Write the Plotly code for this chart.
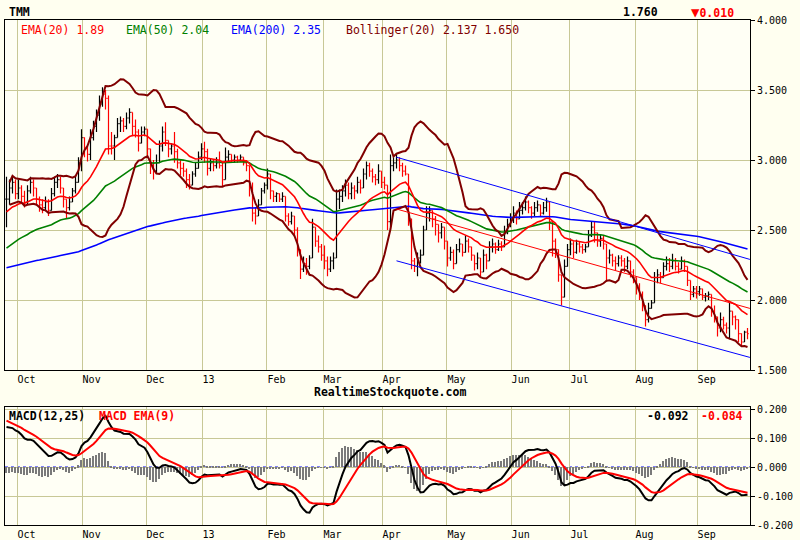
import numpy as np
import pandas as pd
import plotly.graph_objects as go

# month labels and where each month starts on the bar axis
month_labels = ["Oct", "Nov", "Dec", "13", "Feb", "Mar", "Apr", "May", "Jun", "Jul", "Aug", "Sep"]
month_start = [3.5, 25.2, 46.5, 65.2, 86.8, 105.5, 125.2, 146.8, 168.2, 187.8, 209.5, 230.2]

# daily bars, late Sep 2012 .. late Sep 2013
close = [
    2.72, 2.80, 2.84, 2.76, 2.80, 2.74, 2.70, 2.78, 2.84, 2.80,
    2.72, 2.68, 2.66, 2.70, 2.64, 2.76, 2.84, 2.86, 2.80, 2.72,
    2.66, 2.70, 2.78, 2.84, 2.98, 3.16, 3.08, 3.04, 3.16, 3.24,
    3.32, 3.40, 3.47, 3.44, 3.10, 3.10, 3.16, 3.26, 3.28, 3.24,
    3.30, 3.34, 3.24, 3.20, 3.12, 3.20, 3.22, 3.08, 2.96, 2.92,
    2.98, 3.10, 3.20, 3.14, 3.08, 3.10, 3.06, 2.98, 2.94, 2.92,
    2.86, 2.82, 2.90, 2.94, 3.02, 3.08, 3.06, 2.94, 2.98, 2.96,
    2.98, 2.96, 2.86, 3.02, 3.04, 3.00, 3.02, 3.00, 3.02, 2.98,
    2.96, 2.80, 2.62, 2.60, 2.68, 2.78, 2.82, 2.90, 2.78, 2.74,
    2.76, 2.72, 2.74, 2.60, 2.56, 2.60, 2.50, 2.36, 2.22, 2.26,
    2.24, 2.30, 2.52, 2.42, 2.38, 2.32, 2.28, 2.22, 2.28, 2.30,
    2.72, 2.74, 2.78, 2.82, 2.76, 2.80, 2.78, 2.84, 2.80, 2.90,
    2.96, 2.92, 2.88, 2.86, 2.92, 2.84, 2.82, 2.56, 2.96, 2.98,
    3.00, 2.96, 2.92, 2.90, 2.58, 2.28, 2.24, 2.30, 2.32, 2.50,
    2.62, 2.64, 2.58, 2.54, 2.48, 2.52, 2.42, 2.30, 2.34, 2.26,
    2.36, 2.40, 2.34, 2.42, 2.38, 2.32, 2.26, 2.30, 2.20, 2.32,
    2.28, 2.38, 2.40, 2.36, 2.40, 2.38, 2.48, 2.54, 2.58, 2.62,
    2.58, 2.64, 2.66, 2.70, 2.66, 2.62, 2.66, 2.68, 2.62, 2.66,
    2.70, 2.56, 2.42, 2.36, 2.18, 2.02, 2.24, 2.36, 2.40, 2.34,
    2.40, 2.38, 2.36, 2.38, 2.46, 2.52, 2.48, 2.42, 2.44, 2.40,
    2.30, 2.32, 2.28, 2.26, 2.30, 2.28, 2.24, 2.28, 2.20, 2.16,
    2.10, 2.04, 1.96, 1.86, 1.94, 1.98, 2.16, 2.18, 2.16, 2.24,
    2.26, 2.24, 2.28, 2.24, 2.22, 2.28, 2.24, 2.14, 2.04, 2.08,
    2.06, 2.08, 2.02, 2.03, 2.04, 1.92, 1.88, 1.80, 1.86, 1.82,
    1.80, 1.92, 1.88, 1.86, 1.76, 1.70, 1.77, 1.76,
]
high = [
    2.88, 2.86, 2.88, 2.86, 2.86, 2.82, 2.78, 2.82, 2.88, 2.86,
    2.80, 2.74, 2.72, 2.74, 2.72, 2.80, 2.88, 2.90, 2.88, 2.80,
    2.72, 2.74, 2.80, 2.88, 3.02, 3.22, 3.16, 3.10, 3.22, 3.28,
    3.36, 3.46, 3.52, 3.50, 3.46, 3.20, 3.18, 3.30, 3.31, 3.30,
    3.34, 3.37, 3.30, 3.29, 3.22, 3.24, 3.24, 3.20, 3.06, 3.00,
    3.04, 3.14, 3.24, 3.27, 3.14, 3.12, 3.20, 3.08, 3.00, 2.98,
    2.94, 2.90, 2.92, 2.98, 3.06, 3.12, 3.13, 3.08, 3.01, 3.00,
    3.02, 3.06, 2.99, 3.09, 3.07, 3.04, 3.04, 3.03, 3.04, 3.02,
    3.00, 2.90, 2.84, 2.66, 2.72, 2.80, 2.84, 2.94, 2.82, 2.77,
    2.77, 2.76, 2.77, 2.68, 2.62, 2.63, 2.58, 2.52, 2.34, 2.31,
    2.30, 2.32, 2.58, 2.50, 2.46, 2.40, 2.39, 2.31, 2.31, 2.34,
    2.79, 2.79, 2.82, 2.86, 2.84, 2.84, 2.82, 2.88, 2.86, 2.94,
    2.99, 2.98, 2.94, 2.90, 2.97, 2.92, 2.88, 2.81, 3.04, 3.02,
    3.04, 3.02, 2.98, 2.96, 2.74, 2.40, 2.30, 2.34, 2.36, 2.53,
    2.67, 2.67, 2.63, 2.60, 2.52, 2.55, 2.50, 2.38, 2.38, 2.36,
    2.40, 2.44, 2.40, 2.46, 2.44, 2.38, 2.32, 2.34, 2.28, 2.36,
    2.33, 2.42, 2.44, 2.41, 2.43, 2.42, 2.53, 2.58, 2.62, 2.67,
    2.64, 2.70, 2.70, 2.74, 2.71, 2.67, 2.70, 2.71, 2.68, 2.70,
    2.73, 2.67, 2.56, 2.44, 2.31, 2.12, 2.29, 2.40, 2.44, 2.42,
    2.43, 2.42, 2.40, 2.40, 2.50, 2.56, 2.56, 2.48, 2.47, 2.46,
    2.39, 2.36, 2.33, 2.31, 2.32, 2.32, 2.30, 2.31, 2.28, 2.22,
    2.16, 2.12, 2.06, 1.96, 1.98, 2.00, 2.20, 2.22, 2.20, 2.27,
    2.31, 2.30, 2.33, 2.30, 2.27, 2.31, 2.29, 2.22, 2.12, 2.10,
    2.10, 2.10, 2.06, 2.05, 2.06, 2.00, 1.96, 1.84, 1.91, 1.88,
    1.84, 1.98, 1.91, 1.89, 1.86, 1.74, 1.78, 1.80,
]
low = [
    2.52, 2.68, 2.76, 2.72, 2.72, 2.70, 2.66, 2.68, 2.76, 2.74,
    2.68, 2.63, 2.62, 2.64, 2.60, 2.66, 2.74, 2.80, 2.76, 2.66,
    2.58, 2.64, 2.70, 2.76, 2.84, 2.92, 3.02, 2.99, 3.00, 3.14,
    3.20, 3.28, 3.38, 3.36, 3.04, 3.04, 3.00, 3.16, 3.20, 3.20,
    3.22, 3.26, 3.17, 3.16, 3.06, 3.12, 3.17, 3.02, 2.90, 2.86,
    2.90, 2.98, 3.06, 3.10, 3.02, 3.04, 2.98, 2.94, 2.89, 2.88,
    2.80, 2.79, 2.82, 2.88, 2.96, 3.00, 2.98, 2.89, 2.92, 2.92,
    2.94, 2.94, 2.81, 2.88, 2.98, 2.98, 2.98, 2.98, 2.99, 2.96,
    2.92, 2.74, 2.56, 2.54, 2.60, 2.70, 2.76, 2.79, 2.72, 2.70,
    2.70, 2.70, 2.70, 2.56, 2.53, 2.54, 2.45, 2.31, 2.15, 2.20,
    2.18, 2.22, 2.36, 2.38, 2.34, 2.28, 2.22, 2.17, 2.20, 2.22,
    2.31, 2.65, 2.70, 2.74, 2.72, 2.72, 2.72, 2.76, 2.76, 2.82,
    2.86, 2.88, 2.84, 2.82, 2.83, 2.80, 2.79, 2.50, 2.52, 2.92,
    2.94, 2.92, 2.88, 2.89, 2.53, 2.22, 2.20, 2.17, 2.26, 2.36,
    2.56, 2.56, 2.52, 2.46, 2.41, 2.44, 2.36, 2.24, 2.28, 2.22,
    2.26, 2.34, 2.31, 2.34, 2.34, 2.28, 2.21, 2.22, 2.17, 2.20,
    2.22, 2.28, 2.34, 2.33, 2.35, 2.35, 2.39, 2.47, 2.52, 2.55,
    2.54, 2.58, 2.61, 2.64, 2.62, 2.58, 2.60, 2.63, 2.60, 2.61,
    2.63, 2.50, 2.31, 2.30, 2.13, 1.96, 2.06, 2.26, 2.32, 2.30,
    2.33, 2.34, 2.33, 2.34, 2.38, 2.45, 2.41, 2.38, 2.38, 2.36,
    2.13, 2.26, 2.24, 2.21, 2.24, 2.24, 2.20, 2.22, 2.16, 2.12,
    2.04, 2.00, 1.92, 1.81, 1.84, 1.94, 2.08, 2.12, 2.12, 2.16,
    2.21, 2.20, 2.22, 2.21, 2.19, 2.22, 2.20, 2.10, 2.00, 2.02,
    2.01, 2.03, 2.00, 1.99, 2.00, 1.88, 1.84, 1.74, 1.77, 1.79,
    1.76, 1.72, 1.82, 1.79, 1.70, 1.67, 1.70, 1.72,
]

# averages at the first visible bar (the history before it is off the chart)
ema_seed = {12: 2.70, 20: 2.63, 25: 2.562, 50: 2.37, 200: 2.23}
signal_seed = 0.16

# trend channel drawn from early April to the last bar
channel_x = [130, 247.8]
channel_upper = [3.02, 2.29]
channel_mid = [2.65, 1.94]
channel_lower = [2.28, 1.59]

# values printed in the chart's header lines
last_price = "1.760"
last_change = "0.010"
legend_main = [("EMA(20) 1.89", "#FF0000", 19), ("EMA(50) 2.04", "#008000", 124),
               ("EMA(200) 2.35", "#0000FF", 229), ("Bollinger(20) 2.137 1.650", "#800000", 344)]
macd_last = "-0.092"
signal_last = "-0.084"

idx = np.arange(len(close))
c = pd.Series(close, dtype=float)


def ema(values, n, seed):
    k = 2.0 / (n + 1)
    out = [seed]
    for v in values[1:]:
        out.append(out[-1] + k * (v - out[-1]))
    return np.array(out)


ema20 = ema(close, 20, ema_seed[20])
ema50 = ema(close, 50, ema_seed[50])
ema200 = ema(close, 200, ema_seed[200])
bb_mid = c.rolling(20, min_periods=1).mean()
bb_sd = c.rolling(20, min_periods=1).std(ddof=0)
bb_up = bb_mid + 2 * bb_sd
bb_lo = bb_mid - 2 * bb_sd
macd = ema(close, 12, ema_seed[12]) - ema(close, 25, ema_seed[25])
signal = ema(list(macd), 9, signal_seed)
hist = macd - signal

opens = [close[0]] + close[:-1]
hi = np.maximum(np.array(high), np.maximum(close, opens))
lo = np.minimum(np.array(low), np.minimum(close, opens))

grid = "#C8C896"
mono = "DejaVu Sans Mono"

fig = go.Figure()

fig.add_trace(go.Ohlc(
    x=idx, open=opens, high=hi, low=lo, close=close,
    increasing=dict(line=dict(color="black", width=1.2)),
    decreasing=dict(line=dict(color="red", width=1.2)),
    tickwidth=0.4, showlegend=False, hoverinfo="skip"))

for y, col in [(ema200, "#0000FF"), (ema50, "#008000"), (ema20, "#FF0000")]:
    fig.add_trace(go.Scatter(x=idx, y=y, mode="lines", line=dict(color=col, width=1.6), showlegend=False))
for y in [bb_up, bb_lo]:
    fig.add_trace(go.Scatter(x=idx[1:], y=y[1:], mode="lines", line=dict(color="#800000", width=2),
                             showlegend=False))

fig.add_trace(go.Scatter(x=channel_x, y=channel_upper, mode="lines", line=dict(color="#0000FF", width=1), showlegend=False))
fig.add_trace(go.Scatter(x=channel_x, y=channel_lower, mode="lines", line=dict(color="#0000FF", width=1), showlegend=False))
fig.add_trace(go.Scatter(x=channel_x, y=channel_mid, mode="lines", line=dict(color="#FF0000", width=1), showlegend=False))

# MACD panel
fig.add_trace(go.Bar(x=idx, y=hist, width=0.55, marker=dict(color="#7A7A7A", line=dict(width=0)),
                     xaxis="x2", yaxis="y2", showlegend=False))
fig.add_shape(type="line", xref="x2 domain", x0=0, x1=1, yref="y2", y0=0, y1=0,
              line=dict(color="#0000FF", width=1, dash="dot"), layer="below")
fig.add_trace(go.Scatter(x=idx, y=macd, mode="lines", line=dict(color="black", width=2),
                         xaxis="x2", yaxis="y2", showlegend=False))
fig.add_trace(go.Scatter(x=idx, y=signal, mode="lines", line=dict(color="#FF0000", width=2),
                         xaxis="x2", yaxis="y2", showlegend=False))

xax = dict(range=[-0.5, 247.83], tickmode="array", tickvals=month_start, ticktext=month_labels,
           showgrid=True, gridcolor=grid, gridwidth=1, zeroline=False, automargin=False,
           showline=True, linecolor="black", linewidth=1, mirror=True, ticks="",
           ticklabelposition="outside right",
           tickfont=dict(family=mono, size=10, color="black"))
yax = dict(side="right", showgrid=True, gridcolor=grid, gridwidth=1, zeroline=False, automargin=False,
           showline=True, linecolor="black", linewidth=1, mirror=True,
           ticks="outside", ticklen=4, tickcolor="black",
           tickfont=dict(family=mono, size=10, color="black"))

price_ticks = [1.5, 2.0, 2.5, 3.0, 3.5, 4.0]
macd_ticks = [-0.2, -0.1, 0.0, 0.1, 0.2]

fig.update_layout(
    width=800, height=540,
    margin=dict(l=5, r=50, t=20, b=15),
    paper_bgcolor="#FFFFF0", plot_bgcolor="#FFFFF5",
    bargap=0,
    xaxis=dict(xax, domain=[0, 1], anchor="y", rangeslider=dict(visible=False)),
    yaxis=dict(yax, domain=[0.3069, 1], range=[1.5, 4.0],
               tickvals=price_ticks, ticktext=[f"{v:.3f}" for v in price_ticks]),
    xaxis2=dict(xax, domain=[0, 1], anchor="y2"),
    yaxis2=dict(yax, domain=[0, 0.2337], range=[-0.2, 0.207],
                tickvals=macd_ticks, ticktext=[f"{v:.3f}" for v in macd_ticks]),
)


def note(text, xp, yp, color="black", bold=False, anchor="left", size=11.5):
    fig.add_annotation(text=f"<b>{text}</b>" if bold else text,
                       x=(xp - 5) / 745, y=(525 - yp) / 505, xref="paper", yref="paper",
                       xanchor=anchor, yanchor="middle", showarrow=False,
                       font=dict(family=mono, size=size, color=color))


note("TMM", 7, 12, bold=True, size=11.5)
note(last_price, 660, 12, bold=True, anchor="right")
note("<span style='font-size:14px'>\u25bc</span>" + last_change, 689, 12, color="#FF0000", bold=True)
for text, col, xp in legend_main:
    note(text, xp, 30, color=col)
note("RealtimeStockquote.com", 390, 392, bold=True, anchor="center")
note("MACD(12,25)", 7, 416, bold=True)
note("MACD EMA(9)", 97, 416, color="#FF0000", bold=True)
note(macd_last, 691, 416, bold=True, anchor="right")
note(signal_last, 699, 416, color="#FF0000", bold=True)

fig.write_html("out.html", config={"displayModeBar": False},
               post_script="document.body.style.margin='0';")
